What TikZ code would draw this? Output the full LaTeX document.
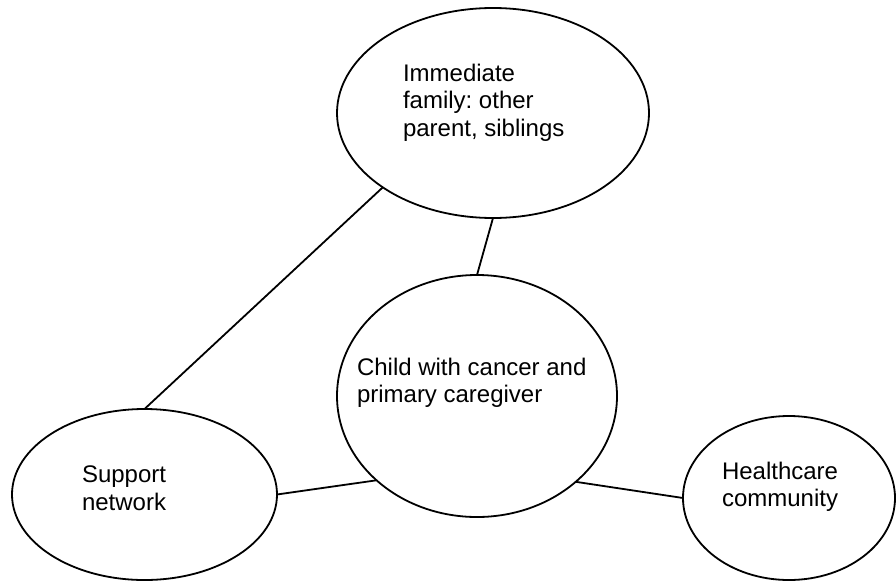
\documentclass[tikz,border=0pt]{standalone}
\usepackage{fontspec}
\setmainfont{Liberation Sans}
\usetikzlibrary{shapes.geometric}
\frenchspacing
\begin{document}
\begin{tikzpicture}[x=1pt,y=-1pt,
  oval/.style={ellipse,draw=black,line width=1.8pt,inner sep=0pt,outer sep=0pt},
  lbl/.style={anchor=north west,inner sep=0pt,outer sep=0pt,align=left,
    font=\fontsize{24}{27.6}\selectfont},
  link/.style={draw=black,line width=1.8pt}]
\useasboundingbox (0,0) rectangle (896,581);
\node[oval,minimum width=312pt,minimum height=210pt] (fam) at (493,113) {};
\node[oval,minimum width=280pt,minimum height=242pt] (child) at (477,396) {};
\node[oval,minimum width=265pt,minimum height=171pt] (sup) at (144.5,494.5) {};
\node[oval,minimum width=212pt,minimum height=164pt] (hc) at (789,498) {};
\node[lbl] (famt) at (403,64) {Immediate\\family: other\\parent, siblings};
\node[lbl] (childt) at (357,358) {Child with cancer and\\primary caregiver};
\node[lbl] (supt) at (82,466) {Support\\network};
\node[lbl] (hct) at (722,462) {Healthcare\\community};
\path[link] (fam.214.3) -- (sup.90);
\path[link] (fam.270) -- (child.90);
\path[link] (child.220.4) -- (sup.0);
\path[link] (child.319.6) -- (hc.180);
\end{tikzpicture}
\end{document}
